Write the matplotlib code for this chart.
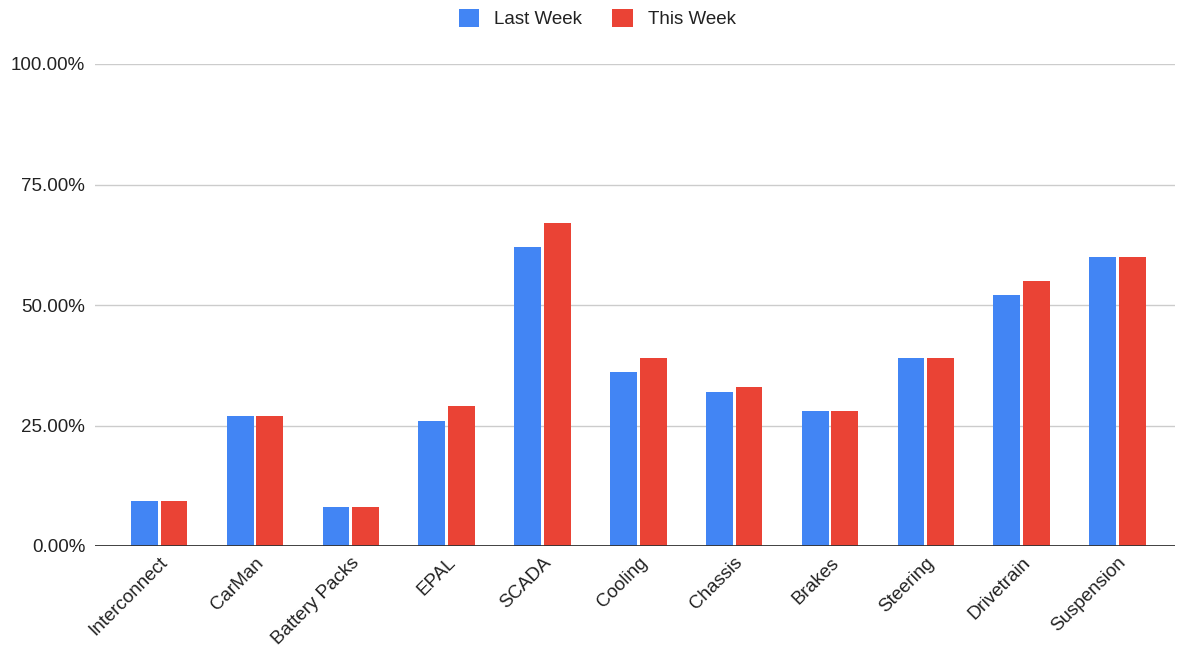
import matplotlib.pyplot as plt
import numpy as np
from matplotlib.ticker import FuncFormatter

plt.rcParams['font.family'] = ['Liberation Sans', 'DejaVu Sans']

# Data
categories = ["Interconnect", "CarMan", "Battery Packs", "EPAL", "SCADA", "Cooling",
              "Chassis", "Brakes", "Steering", "Drivetrain", "Suspension"]
last_week = [9.4, 27, 8.1, 26, 62, 36, 32, 28, 39, 52, 60]
this_week = [9.4, 27, 8.1, 29, 67, 39, 33, 28, 39, 55, 60]

blue = "#4285F4"
red = "#EA4335"

fig = plt.figure(figsize=(11.77, 6.56), dpi=100)
ax = fig.add_axes([95 / 1177, 110 / 656, 1080 / 1177, 482 / 656])

x = np.arange(len(categories))
w = 0.28
ax.bar(x - 0.155, last_week, width=w, color=blue, label="Last Week", zorder=3)
ax.bar(x + 0.155, this_week, width=w, color=red, label="This Week", zorder=3)

ax.set_ylim(0, 100)
ax.set_xlim(-0.67, 10.6)
ax.set_yticks([0, 25, 50, 75, 100])
ax.yaxis.set_major_formatter(FuncFormatter(lambda v, p: f"{v:.2f}%"))
ax.grid(axis="y", color="#cccccc", linewidth=1, zorder=0)
ax.axhline(0, color="#333333", linewidth=1.3, zorder=4)

for s in ax.spines.values():
    s.set_visible(False)
ax.tick_params(axis="both", length=0, labelsize=13.5, colors="#222222")
ax.tick_params(axis="y", pad=7)
ax.tick_params(axis="x", pad=6)
ax.set_xticks(x)
ax.set_xticklabels(categories, rotation=45, ha="right", rotation_mode="anchor")

ax.legend(loc="upper center", bbox_to_anchor=(0.465, 1.15), ncol=2, frameon=False,
          fontsize=13.5, handlelength=1.1, handleheight=1.1, columnspacing=1.6,
          handletextpad=0.8, labelcolor="#222222")

fig.savefig("out.png", dpi=100)
